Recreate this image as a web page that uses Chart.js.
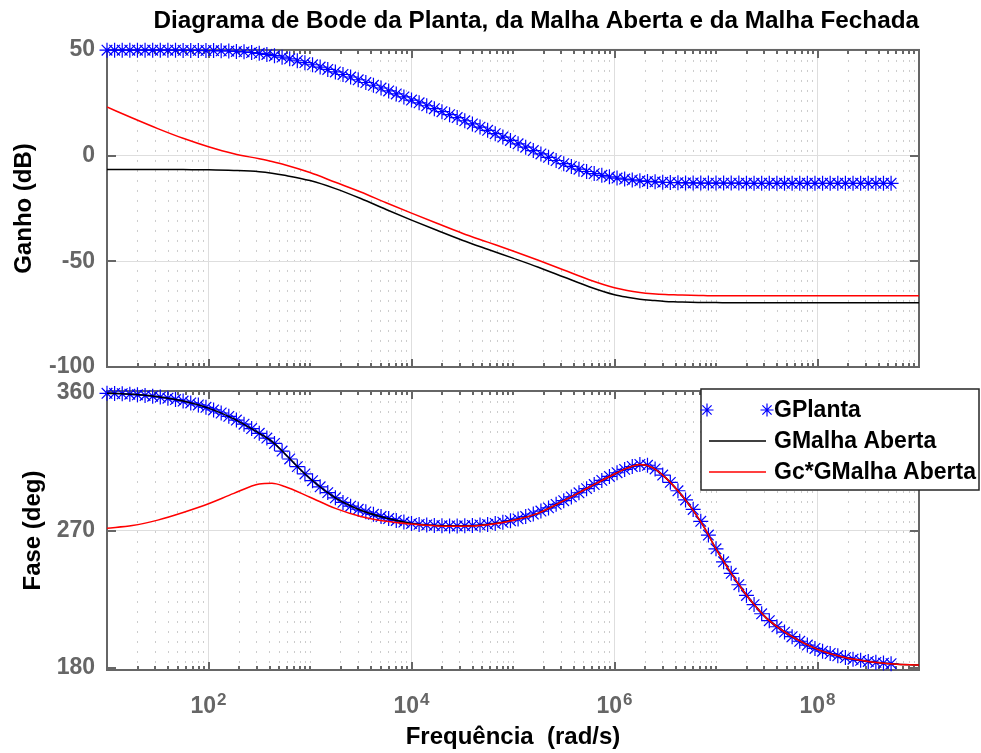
<!DOCTYPE html>
<html>
<head>
<meta charset="utf-8">
<script src="https://cdn.jsdelivr.net/npm/chart.js@4.4.1/dist/chart.umd.min.js"></script>
<style>
  html, body { margin: 0; padding: 0; background: #fff; }
  #wrap { position: relative; width: 981px; height: 753px; }
  #gain-chart { position: absolute; left: 0; top: 0; }
  #phase-chart { position: absolute; left: 0; top: 380px; }
</style>
</head>
<body>
<div id="wrap">
  <canvas id="gain-chart" width="981" height="380"></canvas>
  <canvas id="phase-chart" width="981" height="373"></canvas>
</div>
<script>
// GPlanta markers: log10 of frequency (rad/s)
const plantLogW = [
  1.000, 1.075, 1.150, 1.225, 1.300, 1.375, 1.450, 1.525, 1.600, 1.675,
  1.750, 1.825, 1.900, 1.975, 2.050, 2.125, 2.200, 2.275, 2.350, 2.425,
  2.500, 2.575, 2.650, 2.725, 2.800, 2.875, 2.950, 3.025, 3.100, 3.175,
  3.250, 3.325, 3.400, 3.475, 3.550, 3.625, 3.700, 3.775, 3.850, 3.925,
  4.000, 4.075, 4.150, 4.225, 4.300, 4.375, 4.450, 4.525, 4.600, 4.675,
  4.750, 4.825, 4.900, 4.975, 5.050, 5.125, 5.200, 5.275, 5.350, 5.425,
  5.500, 5.575, 5.650, 5.725, 5.800, 5.875, 5.950, 6.025, 6.100, 6.175,
  6.250, 6.325, 6.400, 6.475, 6.550, 6.625, 6.700, 6.775, 6.850, 6.925,
  7.000, 7.075, 7.150, 7.225, 7.300, 7.375, 7.450, 7.525, 7.600, 7.675,
  7.750, 7.825, 7.900, 7.975, 8.050, 8.125, 8.200, 8.275, 8.350, 8.425,
  8.500, 8.575, 8.650, 8.725
];
const plantGain = [
  49.9, 49.9, 49.9, 49.9, 49.9, 49.9, 49.9, 49.9, 49.9, 49.9,
  49.8, 49.8, 49.8, 49.7, 49.7, 49.6, 49.5, 49.3, 49.1, 48.8,
  48.4, 47.9, 47.3, 46.6, 45.8, 44.9, 44.0, 43.0, 41.9, 40.8,
  39.6, 38.4, 37.2, 35.9, 34.6, 33.3, 32.0, 30.6, 29.2, 27.8,
  26.3, 25.0, 23.6, 22.2, 20.8, 19.4, 18.0, 16.5, 15.0, 13.5,
  12.0, 10.4, 8.8, 7.2, 5.6, 4.0, 2.4, 0.8, -0.8, -2.3,
  -3.8, -5.1, -6.4, -7.5, -8.5, -9.3, -10.0, -10.6, -11.1, -11.5,
  -11.9, -12.2, -12.4, -12.6, -12.7, -12.8, -12.9, -12.9, -13.0, -13.0,
  -13.0, -13.0, -13.0, -13.0, -13.1, -13.1, -13.1, -13.1, -13.1, -13.1,
  -13.1, -13.1, -13.1, -13.1, -13.1, -13.1, -13.1, -13.1, -13.1, -13.1,
  -13.1, -13.1, -13.1, -13.1
];
const plantPhase = [
  359.8, 359.7, 359.5, 359.2, 358.8, 358.4, 357.9, 357.3, 356.6, 355.7,
  354.7, 353.5, 352.2, 350.6, 348.9, 346.9, 344.7, 342.3, 339.6, 336.7,
  333.6, 330.5, 327.0, 322.0, 316.8, 311.8, 307.0, 302.6, 298.6, 294.8,
  291.4, 288.4, 285.9, 283.9, 282.2, 280.6, 279.1, 277.8, 276.6, 275.5,
  274.6, 274.0, 273.6, 273.3, 273.1, 273.0, 273.0, 273.1, 273.3, 273.6,
  274.0, 274.6, 275.4, 276.4, 277.6, 279.1, 280.8, 282.7, 284.8, 287.1,
  289.5, 292.0, 294.7, 297.4, 300.1, 302.8, 305.4, 307.8, 310.0, 311.9,
  313.2, 312.7, 310.3, 306.3, 301.5, 296.0, 290.0, 283.8, 276.0, 267.0,
  258.0, 249.5, 242.0, 234.5, 227.5, 221.5, 215.5, 211.0, 207.0, 203.5,
  200.5, 197.5, 195.0, 192.8, 191.0, 189.5, 188.0, 186.8, 185.8, 185.0,
  184.3, 183.7, 183.2, 182.8
];

// open loop curves: log10 of frequency (rad/s)
const lineLogW = [
  1, 1.25, 1.5, 1.75, 2, 2.25, 2.5, 2.625, 2.75, 3,
  3.25, 3.5, 3.75, 4, 4.25, 4.5, 4.75, 5, 5.25, 5.5,
  5.75, 6, 6.125, 6.25, 6.375, 6.5, 6.625, 6.75, 6.875, 7,
  7.125, 7.25, 7.375, 7.5, 7.75, 8, 8.25, 8.5, 8.75, 9
];
const openGain = [
  -6.5, -6.5, -6.5, -6.6, -6.7, -7.0, -7.6, -8.3, -9.3, -11.8,
  -15.6, -20.3, -25.5, -30.5, -35.3, -40.0, -44.3, -48.5, -52.8, -57.4,
  -62.0, -65.8, -67.0, -67.9, -68.5, -69.0, -69.2, -69.4, -69.5, -69.5,
  -69.6, -69.6, -69.6, -69.6, -69.6, -69.6, -69.6, -69.6, -69.6, -69.6
];
const openPhase = [
  359.8, 359.1, 357.5, 354.7, 350.1, 343.1, 333.6, 328.3, 320.4, 304.0,
  291.4, 283.3, 278.2, 274.6, 273.2, 273.0, 274.0, 276.8, 281.4, 289.5,
  298.3, 307.0, 310.8, 313.2, 311.2, 304.8, 296.0, 285.5, 273.0, 258.0,
  244.5, 232.2, 221.5, 212.5, 200.5, 192.2, 187.2, 184.3, 182.7, 182.0
];
const compGain = [
  23.0, 17.8, 12.8, 8.2, 4.2, 0.9, -1.5, -2.8, -4.3, -8.0,
  -12.6, -17.2, -22.3, -27.2, -32.0, -36.7, -40.9, -45.1, -49.5, -54.1,
  -58.7, -62.5, -63.8, -64.7, -65.3, -65.7, -65.9, -66.1, -66.2, -66.3,
  -66.3, -66.3, -66.3, -66.3, -66.3, -66.3, -66.3, -66.3, -66.3, -66.3
];
const compPhase = [
  271.5, 273.2, 276.8, 281.8, 287.5, 294.3, 300.4, 300.9, 298.8, 291.8,
  284.5, 279.2, 276.0, 274.2, 273.0, 272.8, 273.8, 276.6, 281.4, 289.5,
  298.3, 307.0, 310.8, 313.2, 311.2, 304.8, 296.0, 285.5, 273.0, 258.0,
  244.5, 232.2, 221.5, 212.5, 200.5, 192.2, 187.2, 184.3, 182.7, 182.0
];

const seriesNames = ['GPlanta', 'GMalha Aberta', 'Gc*GMalha Aberta'];
const xTickExps = [2, 4, 6, 8];
const gainTicks = [-100, -50, 0, 50];
const phaseTicks = [180, 270, 360];

const FONT = "'Liberation Sans', Arial, Helvetica, sans-serif";
const AXIS_GRAY = '#666666';
const GRID_MAJOR = '#dedede';
const GRID_MINOR = '#cccccc';
const STAR_RADIUS = 7.5;

const toPoints = (logs, vals) => logs.map((e, i) => ({ x: Math.pow(10, e), y: vals[i] }));

// every 1..9 x 10^k position, used for the log grid and the small ticks
const logTicks = [];
for (let k = 1; k <= 8; k++) {
  for (let m = 1; m <= 9; m++) logTicks.push(m * Math.pow(10, k));
}
logTicks.push(1e9);

function isLabelled(v) {
  const e = Math.log10(v);
  return Math.abs(e - Math.round(e)) < 1e-6 && xTickExps.includes(Math.round(e));
}
function isEdge(v) {
  return Math.abs(v - 10) < 1e-6 || Math.abs(v - 1e9) < 1;
}

function logX(height, title) {
  return {
    type: 'logarithmic',
    min: 10,
    max: 1e9,
    afterBuildTicks: s => { s.ticks = logTicks.map(v => ({ value: v })); },
    afterFit: s => {
      s.height = height;
      s.paddingLeft = 0;
      s.paddingRight = 0;
    },
    ticks: { display: false },
    grid: {
      drawTicks: false,
      lineWidth: 1,
      color: c => {
        if (!c.tick || isEdge(c.tick.value)) return 'rgba(0,0,0,0)';
        return isLabelled(c.tick.value) ? GRID_MAJOR : GRID_MINOR;
      }
    },
    border: {
      display: false,
      dash: c => (c.tick && !isLabelled(c.tick.value)) ? [2, 8] : []
    },
    title: title ? {
      display: true,
      text: title,
      color: '#000',
      font: { family: FONT, size: 24, weight: 'bold' },
      padding: { top: 0, bottom: 1 }
    } : { display: false }
  };
}

function linY(min, max, ticks, gridAt, title, titlePad) {
  return {
    min: min,
    max: max,
    afterBuildTicks: s => { s.ticks = ticks.map(v => ({ value: v })); },
    afterFit: s => {
      s.width = 107;
      // no extra room for half labels at the ends: the layout is fixed
      s.paddingTop = 0;
      s.paddingBottom = 0;
    },
    ticks: { color: AXIS_GRAY, font: { family: FONT, size: 23, weight: 'bold' }, padding: 12 },
    grid: {
      drawTicks: false,
      lineWidth: 1,
      color: c => (c.tick && gridAt.includes(c.tick.value)) ? GRID_MAJOR : 'rgba(0,0,0,0)'
    },
    border: { display: false },
    title: {
      display: true,
      text: title,
      color: '#000',
      font: { family: FONT, size: 24, weight: 'bold' },
      padding: { top: titlePad, bottom: 0 }
    }
  };
}

function makeDatasets(plantVals, openVals, compVals) {
  return [
    {
      label: seriesNames[0],
      data: toPoints(plantLogW, plantVals),
      showLine: false,
      pointStyle: 'star',
      pointRadius: STAR_RADIUS,
      pointBorderWidth: 1.2,
      borderColor: '#0000ff',
      backgroundColor: '#0000ff',
      clip: false,
      order: 3
    },
    {
      label: seriesNames[1],
      data: toPoints(lineLogW, openVals),
      borderColor: '#000000',
      borderWidth: 1.5,
      pointRadius: 0,
      cubicInterpolationMode: 'monotone',
      order: 2
    },
    {
      label: seriesNames[2],
      data: toPoints(lineLogW, compVals),
      borderColor: '#ff0000',
      borderWidth: 1.5,
      pointRadius: 0,
      cubicInterpolationMode: 'monotone',
      order: 1
    }
  ];
}

// box and inward ticks, drawn under the curves
const axesBox = {
  id: 'axesBox',
  beforeDatasetsDraw(chart) {
    const { ctx, chartArea: a, scales: { x, y } } = chart;
    ctx.save();
    ctx.strokeStyle = AXIS_GRAY;
    ctx.lineWidth = 2;
    ctx.beginPath();
    logTicks.forEach(v => {
      if (isEdge(v)) return;
      const px = Math.round(x.getPixelForValue(v));
      const len = isLabelled(v) ? 8 : 4;
      ctx.moveTo(px, a.bottom); ctx.lineTo(px, a.bottom - len);
      ctx.moveTo(px, a.top); ctx.lineTo(px, a.top + len);
    });
    y.ticks.forEach(t => {
      const py = Math.round(y.getPixelForValue(t.value));
      ctx.moveTo(a.left, py); ctx.lineTo(a.left + 9, py);
      ctx.moveTo(a.right, py); ctx.lineTo(a.right - 9, py);
    });
    ctx.stroke();
    ctx.strokeRect(a.left, a.top, a.right - a.left, a.bottom - a.top);
    ctx.restore();
  }
};

// 10^n labels under the phase plot
const powerLabels = {
  id: 'powerLabels',
  afterDraw(chart) {
    const { ctx, scales: { x } } = chart;
    ctx.save();
    ctx.fillStyle = AXIS_GRAY;
    ctx.textBaseline = 'alphabetic';
    ctx.textAlign = 'left';
    xTickExps.forEach(e => {
      const px = x.getPixelForValue(Math.pow(10, e));
      ctx.font = 'bold 23px ' + FONT;
      const bw = ctx.measureText('10').width;
      ctx.font = 'bold 17px ' + FONT;
      const sw = ctx.measureText(String(e)).width;
      const x0 = px - (bw + sw + 1) / 2;
      ctx.font = 'bold 23px ' + FONT;
      ctx.fillText('10', x0, x.top + 43);
      ctx.font = 'bold 17px ' + FONT;
      ctx.fillText(String(e), x0 + bw + 1, x.top + 35);
    });
    ctx.restore();
  }
};

// MATLAB style legend box in the phase plot
const legendBox = {
  id: 'legendBox',
  afterDraw(chart) {
    const ctx = chart.ctx;
    const left = 701, top = 9, w = 278, h = 101;
    ctx.save();
    ctx.fillStyle = '#ffffff';
    ctx.fillRect(left, top, w, h);
    ctx.strokeStyle = '#262626';
    ctx.lineWidth = 1.5;
    ctx.strokeRect(left, top, w, h);
    ctx.font = 'bold 23px ' + FONT;
    ctx.textBaseline = 'alphabetic';
    ctx.textAlign = 'left';
    chart.data.datasets.forEach((ds, i) => {
      const base = top + 28 + i * 31;
      const cy = base - 7;
      ctx.strokeStyle = ds.borderColor;
      if (ds.showLine === false) {
        ctx.lineWidth = 1.2;
        [707, 767].forEach(px => {
          Chart.helpers.drawPoint(ctx, { pointStyle: 'star', radius: 6.5, borderWidth: 1.2 }, px, cy);
        });
      } else {
        ctx.lineWidth = 1.5;
        ctx.beginPath();
        ctx.moveTo(709, cy);
        ctx.lineTo(766, cy);
        ctx.stroke();
      }
      ctx.fillStyle = '#000';
      ctx.fillText(ds.label, 774, base);
    });
    ctx.restore();
  }
};

new Chart(document.getElementById('gain-chart'), {
  type: 'line',
  data: { datasets: makeDatasets(plantGain, openGain, compGain) },
  options: {
    responsive: false,
    animation: false,
    events: [],
    layout: { padding: { left: 0, right: 62, top: 0, bottom: 13 } },
    plugins: {
      legend: { display: false },
      tooltip: { enabled: false },
      title: {
        display: true,
        text: 'Diagrama de Bode da Planta, da Malha Aberta e da Malha Fechada',
        align: 'end',
        color: '#000',
        font: { family: FONT, size: 24.3, weight: 'bold' },
        padding: { top: 7, bottom: 13.8 }
      }
    },
    scales: {
      x: logX(0, null),
      y: linY(-100, 50, gainTicks, [0, -50], 'Ganho (dB)', 9.6)
    }
  },
  plugins: [axesBox]
});

new Chart(document.getElementById('phase-chart'), {
  type: 'line',
  data: { datasets: makeDatasets(plantPhase, openPhase, compPhase) },
  options: {
    responsive: false,
    animation: false,
    events: [],
    layout: { padding: { left: 0, right: 62, top: 11, bottom: 0 } },
    plugins: {
      legend: { display: false },
      tooltip: { enabled: false }
    },
    scales: {
      x: logX(83, 'Frequência  (rad/s)'),
      y: linY(178.7, 361.3, phaseTicks, [270], 'Fase (deg)', 18.6)
    }
  },
  plugins: [axesBox, powerLabels, legendBox]
});
</script>
</body>
</html>
